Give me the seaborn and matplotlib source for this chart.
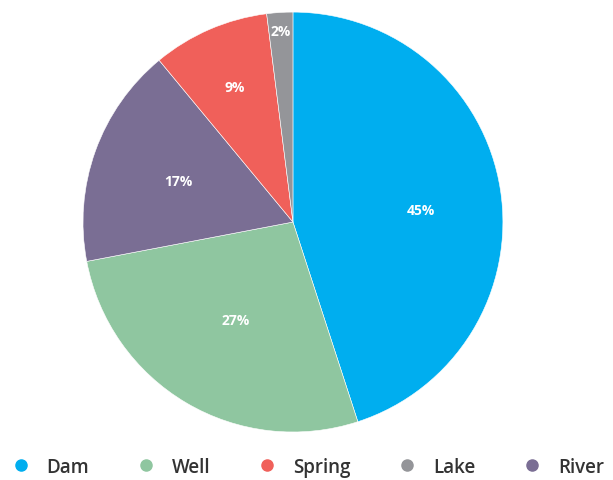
import numpy as np
import seaborn as sns
import matplotlib.pyplot as plt
from matplotlib.lines import Line2D

# Water source shares (clockwise from the top)
sources = ["Dam", "Well", "River", "Spring", "Lake"]
shares = [45, 27, 17, 9, 2]
colors = ["#00AEEF", "#8FC6A0", "#7A6E94", "#F0605A", "#949599"]

# Legend order as in the reference
legend_order = ["Dam", "Well", "Spring", "Lake", "River"]

sns.set_theme(style="white")
plt.rcParams["font.family"] = ["Open Sans", "DejaVu Sans"]

fig = plt.figure(figsize=(6.13, 4.81), dpi=100)
ax = fig.add_axes([0.1354, 0.0998, 0.685, 0.873])

wedges, _ = ax.pie(shares, colors=colors, startangle=90, counterclock=False,
                   radius=1, wedgeprops=dict(edgecolor="white", linewidth=0.4))

# label distance from centre and angle nudge, per slice
label_dist = [0.61, 0.54, 0.58, 0.70, 0.91]
label_nudge = [-3.5, 0, 0, 0, 0]
for w, val, d, nd in zip(wedges, shares, label_dist, label_nudge):
    ang = np.deg2rad((w.theta1 + w.theta2) / 2 + nd)
    ax.text(d * np.cos(ang), d * np.sin(ang), f"{val}%", color="white",
            fontsize=10, fontweight="bold", ha="center", va="center")

ax.set_xlim(-1, 1)
ax.set_ylim(-1, 1)
ax.set_aspect("equal")
ax.axis("off")

cmap = dict(zip(sources, colors))
handles = [Line2D([0], [0], marker="o", linestyle="", markersize=8,
                  markerfacecolor=cmap[s], markeredgecolor=cmap[s]) for s in legend_order]
fig.legend(handles, legend_order, loc="center", bbox_to_anchor=(0.5, 0.028),
           ncol=5, frameon=False, handletextpad=0.8, handlelength=1.2,
           columnspacing=2.4, labelcolor="#333333",
           prop=dict(family=["Open Sans", "DejaVu Sans"], weight="semibold", size=13.5))

fig.savefig("out.png", dpi=100)
